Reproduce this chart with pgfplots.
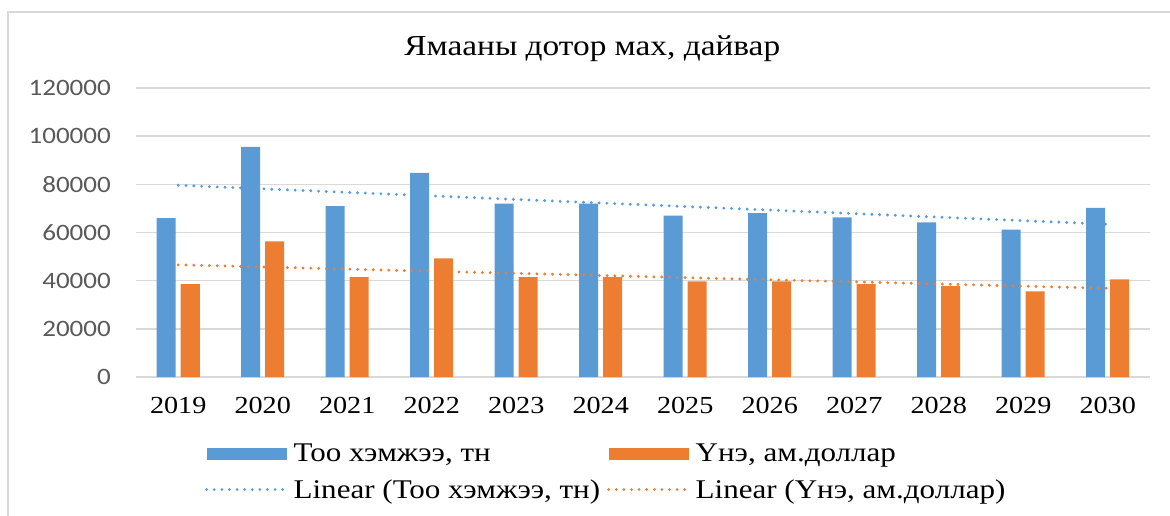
\documentclass[border=0pt]{standalone}
\usepackage{fontspec}
\setmainfont{Liberation Serif}[FakeStretch=1.15]
\newfontfamily\calib{Carlito}[FakeStretch=1.15]
\usepackage{pgfplots}
\usepackage{pgfplotstable}
\pgfplotsset{compat=1.18}
\definecolor{blueC}{HTML}{5B9BD5}
\definecolor{orangeC}{HTML}{ED7D31}
\definecolor{gridC}{HTML}{D9D9D9}
\definecolor{tickC}{HTML}{595959}
\pgfplotstableread{
x year blue orange
0 2019 66000 38600
1 2020 95600 56300
2 2021 71000 41500
3 2022 84800 49300
4 2023 72000 41500
5 2024 72000 41500
6 2025 67000 39700
7 2026 68000 39700
8 2027 66300 38600
9 2028 64200 37700
10 2029 61200 35600
11 2030 70200 40500
}\datatable
\begin{document}
\begin{tikzpicture}
\path[use as bounding box] (0pt,0pt) rectangle (1170pt,515pt);
\draw[gridC, line width=1.5pt] (8pt,-5pt) -- (8pt,503pt) -- (1175pt,503pt);
\begin{axis}[
  at={(136pt,138pt)}, anchor=south west,
  scale only axis, width=1014pt, height=289pt,
  xmin=-0.5, xmax=11.5, ymin=0, ymax=120000,
  xtick={0,...,11},
  xticklabels={2019,2020,2021,2022,2023,2024,2025,2026,2027,2028,2029,2030},
  ytick={0,20000,40000,60000,80000,100000,120000},
  scaled y ticks=false,
  /pgf/number format/fixed,
  /pgf/number format/set thousands separator={},
  /pgf/number format/assume math mode=true,
  yticklabel style={font=\calib\fontsize{23.5}{28}\selectfont, text=tickC, anchor=east, inner sep=0pt, xshift=-25pt},
  xticklabel style={font=\fontsize{24.5}{29}\selectfont, text=black, anchor=base, inner sep=0pt, yshift=-36pt},
  axis line style={draw=none},
  tick style={draw=none},
  ymajorgrids,
  major grid style={draw=gridC, line width=1.4pt},
  title={Ямааны дотор мах, дайвар},
  title style={font=\fontsize{29}{34}\selectfont, at={(axis description cs:0.45,1.093)}, anchor=base, inner sep=0pt},
  legend columns=2,
  legend cell align=left,
  legend style={draw=none, fill=none, at={(axis description cs:0.068,-0.225)}, anchor=north west, inner sep=0pt,
    font=\fontsize{27}{32}\selectfont, column sep=5pt, row sep=12pt},
  clip=false,
]
\addplot[ybar, bar width=19pt, bar shift=-12pt, fill=blueC, draw=none,
  legend image code/.code={\fill[blueC] (0pt,-6pt) rectangle (80pt,6pt);}]
  table[x=x, y=blue] {\datatable};
\addlegendentry{Тоо хэмжээ, тн}
\addplot[ybar, bar width=19pt, bar shift=12pt, fill=orangeC, draw=none,
  legend image code/.code={\fill[orangeC] (0pt,-6pt) rectangle (80pt,6pt);}]
  table[x=x, y=orange] {\datatable};
\addlegendentry{Үнэ, ам.доллар}
\addplot[sharp plot, no marks, blueC, line width=3.2pt, line cap=round, dash pattern=on 0pt off 7.8pt,
  legend image code/.code={\draw[blueC, line width=3pt, line cap=round, dash pattern=on 0pt off 7.6pt] (0pt,0pt) -- (78pt,0pt);}]
  table[x=x, y={create col/linear regression={x=x, y=blue}}] {\datatable};
\addlegendentry{Linear (Тоо хэмжээ, тн)}
\addplot[sharp plot, no marks, orangeC, line width=3.2pt, line cap=round, dash pattern=on 0pt off 7.8pt,
  legend image code/.code={\draw[orangeC, line width=3pt, line cap=round, dash pattern=on 0pt off 7.6pt] (0pt,0pt) -- (78pt,0pt);}]
  table[x=x, y={create col/linear regression={x=x, y=orange}}] {\datatable};
\addlegendentry{Linear (Үнэ, ам.доллар)}
\end{axis}
\end{tikzpicture}
\end{document}
